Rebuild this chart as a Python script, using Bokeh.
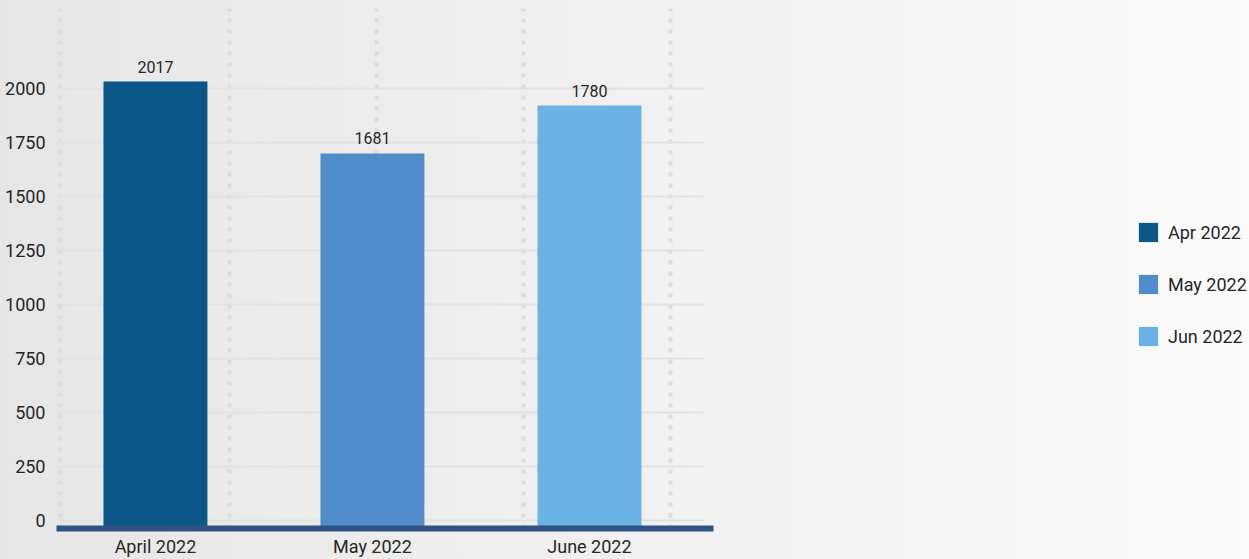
from bokeh.plotting import figure
from bokeh.models import ColumnDataSource, Range1d, FixedTicker, Legend, LegendItem
from bokeh.core.properties import value
from bokeh.embed import file_html
from bokeh.resources import INLINE

# ---- data ----
categories = ["April 2022", "May 2022", "June 2022"]
legend_labels = ["Apr 2022", "May 2022", "Jun 2022"]
value_labels = ["2017", "1681", "1780"]
bar_heights = [2032, 1699, 1921]
colors = ["#0a5788", "#518cca", "#6ab1e4"]
y_ticks = [0, 250, 500, 750, 1000, 1250, 1500, 1750, 2000]

FONT = "Roboto"
TEXT = "#262626"

idx = list(range(len(categories)))
src = ColumnDataSource(dict(x=idx, top=bar_heights, lab=value_labels,
                            color=colors, leg=legend_labels))

x_start, x_end = -0.456, 5.042
y_start, y_end = -37, 2370
grid_x_end = 2.525
p = figure(width=1249, height=559, output_backend="svg", toolbar_location=None,
           x_range=Range1d(x_start, x_end), y_range=Range1d(y_start, y_end),
           min_border_left=56, min_border_right=0, min_border_top=8,
           min_border_bottom=31)
p.outline_line_color = None
p.background_fill_color = None
p.border_fill_color = None
p.styles = {"background": "linear-gradient(to right, #e6e6e6, #fbfbfb)"}

# horizontal grid lines, limited to the chart area
p.ygrid.visible = False
p.segment(x0=[x_start] * len(y_ticks), x1=[grid_x_end] * len(y_ticks),
          y0=y_ticks, y1=y_ticks, line_color="#e2e2e2", line_width=2)

r = p.vbar(x="x", top="top", bottom=y_start, width=0.479, color="color",
           line_color=None, source=src)
p.text(x="x", y="top", text="lab", source=src, text_align="center",
       text_baseline="middle", y_offset=-15, text_font=value(FONT),
       text_font_size="16px", text_color=TEXT)

# axes
p.xaxis.ticker = FixedTicker(ticks=idx)
p.xaxis.bounds = (x_start, 2.571)
p.xaxis.major_label_overrides = {i: c for i, c in zip(idx, categories)}
p.xaxis.axis_line_color = "#2f5282"
p.xaxis.axis_line_width = 6
p.xaxis.major_tick_line_color = None
p.xaxis.minor_tick_line_color = None
p.xaxis.major_tick_out = 0
p.xaxis.minor_tick_out = 0
p.xaxis.major_label_standoff = 7
p.xaxis.major_label_text_font = FONT
p.xaxis.major_label_text_font_size = "18px"
p.xaxis.major_label_text_color = TEXT

p.yaxis.ticker = FixedTicker(ticks=y_ticks)
p.yaxis.axis_line_color = None
p.yaxis.major_tick_line_color = None
p.yaxis.minor_tick_line_color = None
p.yaxis.major_tick_out = 0
p.yaxis.minor_tick_out = 0
p.yaxis.major_label_standoff = 11
p.yaxis.major_label_text_font = FONT
p.yaxis.major_label_text_font_size = "18px"
p.yaxis.major_label_text_color = TEXT

# vertical dotted grid
p.xgrid.ticker = FixedTicker(ticks=[-0.438, 0.341, 1.018, 1.696, 2.373])
p.xgrid.grid_line_color = "#dcdcdc"
p.xgrid.grid_line_width = 4
p.xgrid.grid_line_dash = "4 7"

# legend
items = [LegendItem(label=l, renderers=[r], index=i) for i, l in enumerate(legend_labels)]
legend = Legend(items=items, location=(1080, 180), orientation="vertical",
                glyph_width=24, glyph_height=24, label_height=24, spacing=28,
                label_standoff=8, padding=0, margin=0,
                border_line_color=None, background_fill_color=None,
                background_fill_alpha=0,
                label_text_font=FONT, label_text_font_size="18px",
                label_text_color=TEXT)
p.add_layout(legend, "center")

open("out.html", "w").write(file_html(p, INLINE))
